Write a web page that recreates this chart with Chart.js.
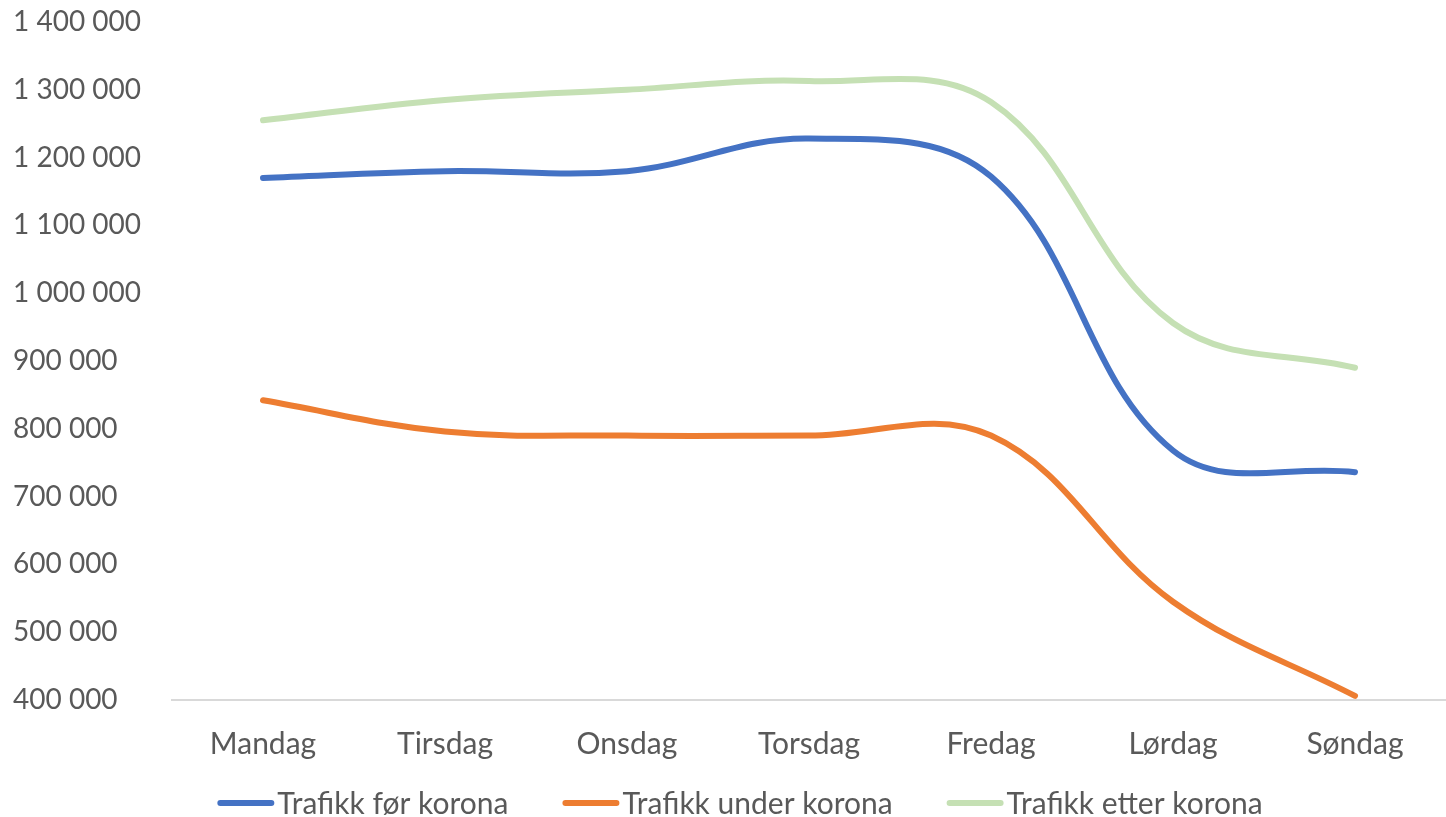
<!DOCTYPE html>
<html>
<head>
<meta charset="utf-8">
<script src="https://cdn.jsdelivr.net/npm/chart.js@4"></script>
<style>
  body { margin: 0; background: #fff; }
  #wrap { width: 1446px; height: 817px; }
</style>
</head>
<body>
<div id="wrap"><canvas id="myChart"></canvas></div>
<script>
const days = ['Mandag', 'Tirsdag', 'Onsdag', 'Torsdag', 'Fredag', 'Lørdag', 'Søndag'];
const before = [1170000, 1180000, 1180000, 1228000, 1172000, 768000, 736000];
const during = [842000, 796000, 790000, 790000, 790000, 545000, 406000];
const after = [1255000, 1285000, 1300000, 1313000, 1282000, 956000, 890000];

const textColor = '#595959';

// space as thousands separator, like the original
function fmt(v) {
    return String(v).replace(/\B(?=(\d{3})+(?!\d))/g, ' ');
}

function line(label, data, color) {
    return {
        label: label,
        data: data,
        borderColor: color,
        backgroundColor: color,
        borderWidth: 6,
        borderCapStyle: 'round',
        pointRadius: 0,
        tension: 0.38,
        fill: false
    };
}

// legend drawn by hand so the line sample sits right next to the text
const bottomLegend = {
    id: 'bottomLegend',
    afterDraw(chart) {
        const c = chart.ctx;
        const y = 803;
        c.save();
        c.font = '30px Lato';
        c.textBaseline = 'middle';
        const items = chart.data.datasets.map(ds => ({
            text: ds.label,
            color: ds.borderColor,
            w: 57 + 3 + c.measureText(ds.label).width
        }));
        const total = items.reduce((s, it) => s + it.w, 0) + 54 * (items.length - 1);
        let x = 740 - total / 2;
        items.forEach(it => {
            c.strokeStyle = it.color;
            c.lineWidth = 6;
            c.lineCap = 'round';
            c.beginPath();
            c.moveTo(x + 3, y);
            c.lineTo(x + 54, y);
            c.stroke();
            c.fillStyle = textColor;
            c.fillText(it.text, x + 60, y + 1);
            x += it.w + 54;
        });
        c.restore();
    }
};

const ctx = document.getElementById('myChart').getContext('2d');
const chart = new Chart(ctx, {
    type: 'line',
    data: {
        labels: days,
        datasets: [
            line('Trafikk før korona', before, '#4472C4'),
            line('Trafikk under korona', during, '#ED7D31'),
            line('Trafikk etter korona', after, '#C5E0B4')
        ]
    },
    plugins: [bottomLegend],
    options: {
        responsive: true,
        maintainAspectRatio: false,
        animation: false,
        layout: {
            autoPadding: false,
            padding: { top: 22, right: 0, left: 13, bottom: 55 }
        },
        plugins: {
            tooltip: { enabled: false },
            legend: { display: false }
        },
        scales: {
            x: {
                offset: true,
                afterFit: s => { s.height = 62; s.paddingLeft = 0; s.paddingRight = 0; },
                grid: { display: false, drawTicks: false },
                border: { color: '#D9D9D9', width: 2 },
                ticks: {
                    maxRotation: 0,
                    font: { family: 'Lato', size: 30 },
                    color: textColor,
                    padding: 26
                }
            },
            y: {
                min: 400000,
                max: 1400000,
                afterFit: s => { s.width = 159; s.paddingTop = 0; s.paddingBottom = 0; },
                grid: { display: false, drawTicks: false },
                border: { display: false },
                ticks: {
                    stepSize: 100000,
                    font: { family: 'Lato', size: 28 },
                    color: textColor,
                    crossAlign: 'far',
                    padding: 32,
                    callback: function (v) { return fmt(v); }
                }
            }
        }
    }
});
</script>
</body>
</html>
